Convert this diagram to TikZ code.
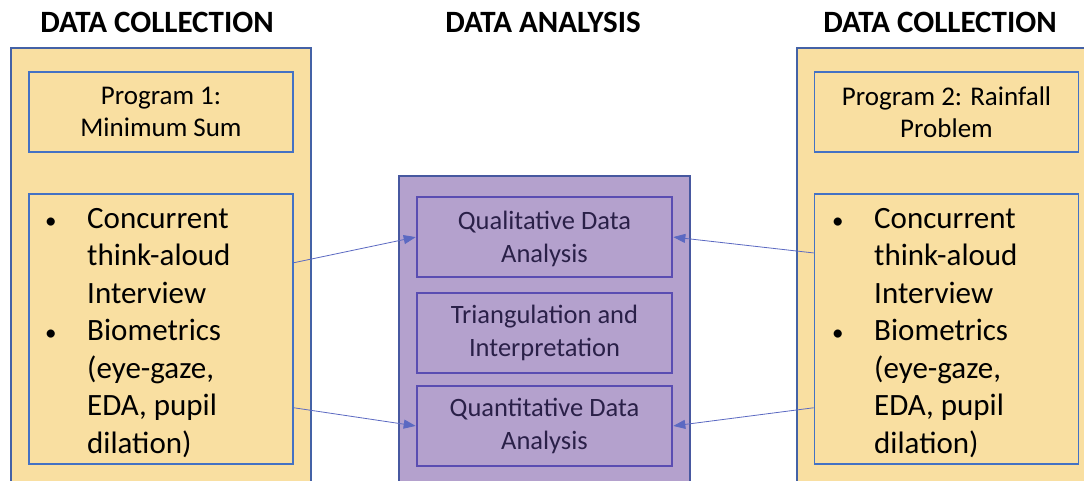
\documentclass[tikz,border=0pt]{standalone}
\usepackage{fontspec}
\setmainfont{Carlito}
\usetikzlibrary{arrows.meta,calc}
\definecolor{panelyellow}{HTML}{F9DFA1}
\definecolor{outerblue}{HTML}{4462A6}
\definecolor{innerblue}{HTML}{4472C4}
\definecolor{panelpurple}{HTML}{B4A1CD}
\definecolor{innerpurple}{HTML}{5A4DB2}
\definecolor{outerpurple}{HTML}{4758A0}
\definecolor{purpletext}{HTML}{2A2048}
\definecolor{arrowblue}{HTML}{5B69C2}
\tikzset{
  header/.style={font=\fontsize{31}{36}\selectfont\bfseries, text=black, inner sep=0pt},
  outerpanel/.style={draw=outerblue, line width=1.6pt, fill=panelyellow},
  outerpanelp/.style={draw=outerpurple, line width=1.6pt, fill=panelpurple},
  progbox/.style={draw=innerblue, line width=1.6pt, fill=panelyellow, minimum width=264pt, minimum height=80pt, inner sep=0pt, align=center, font=\fontsize{27}{32}\selectfont},
  bulletbox/.style={draw=innerblue, line width=1.6pt, fill=panelyellow, minimum width=264pt, minimum height=270pt, inner sep=0pt},
  bullettext/.style={inner sep=0pt, anchor=north west, font=\fontsize{31}{37.5}\selectfont},
  anabox/.style={draw=innerpurple, line width=1.6pt, fill=panelpurple, minimum width=255pt, minimum height=80pt, inner sep=0pt, align=center, text=purpletext, font=\fontsize{26.5}{33}\selectfont},
  conn/.style={draw=arrowblue, line width=0.8pt, -{Triangle[length=12pt,width=9pt]}, shorten >=0.5pt}
}
\newcommand{\smallbul}{\hspace*{2pt}{\fontsize{23}{23}\selectfont\textbullet}}
\newcommand{\bulletlist}{%
  \begin{tabular}{@{}p{44pt}@{}l@{}}
  \smallbul & Concurrent\\
   & think-aloud\\
   & Interview\\
  \smallbul & Biometrics\\
   & (eye-gaze,\\
   & EDA, pupil\\
   & dilation)
  \end{tabular}}
\begin{document}
\begin{tikzpicture}[x=1pt,y=-1pt]
\clip (0,0) rectangle (1084,481);
\fill[white] (0,0) rectangle (1084,481);
% headers
\node[header] (h1) at (157,22) {DATA COLLECTION};
\node[header] (h2) at (543,22) {DATA ANALYSIS};
\node[header] (h3) at (940,22) {DATA COLLECTION};
% outer panels
\draw[outerpanel] (11,48) rectangle (311,495);
\draw[outerpanel] (797,48) rectangle (1100,495);
\draw[outerpanelp] (399,176) rectangle (690,495);
% left column
\node[progbox] (p1) at (161,112) {Program 1:\\Minimum Sum};
\node[bulletbox] (lb) at (161,329) {};
\node[bullettext] (lt) at (43,202) {\bulletlist};
% right column
\node[progbox] (p2) at (946.5,112) {Program 2: Rainfall\\Problem};
\node[bulletbox] (rb) at (946.5,329) {};
\node[bullettext] (rt) at (830,202) {\bulletlist};
% middle
\node[anabox, text depth=0pt] (qual) at (544.5,237) {Qualitative Data\\Analysis};
\node[anabox] (tri) at (544.5,333) {Triangulation and\\Interpretation};
\node[anabox] (quant) at (544.5,426) {Quantitative Data\\Analysis};
% connectors
\draw[conn] ($(lb.north east)!0.256!(lb.south east)$) -- (qual.west);
\draw[conn] ($(lb.north east)!0.79!(lb.south east)$) -- (quant.west);
\draw[conn] ($(rb.north west)!0.22!(rb.south west)$) -- (qual.east);
\draw[conn] ($(rb.north west)!0.79!(rb.south west)$) -- (quant.east);
\end{tikzpicture}
\end{document}
